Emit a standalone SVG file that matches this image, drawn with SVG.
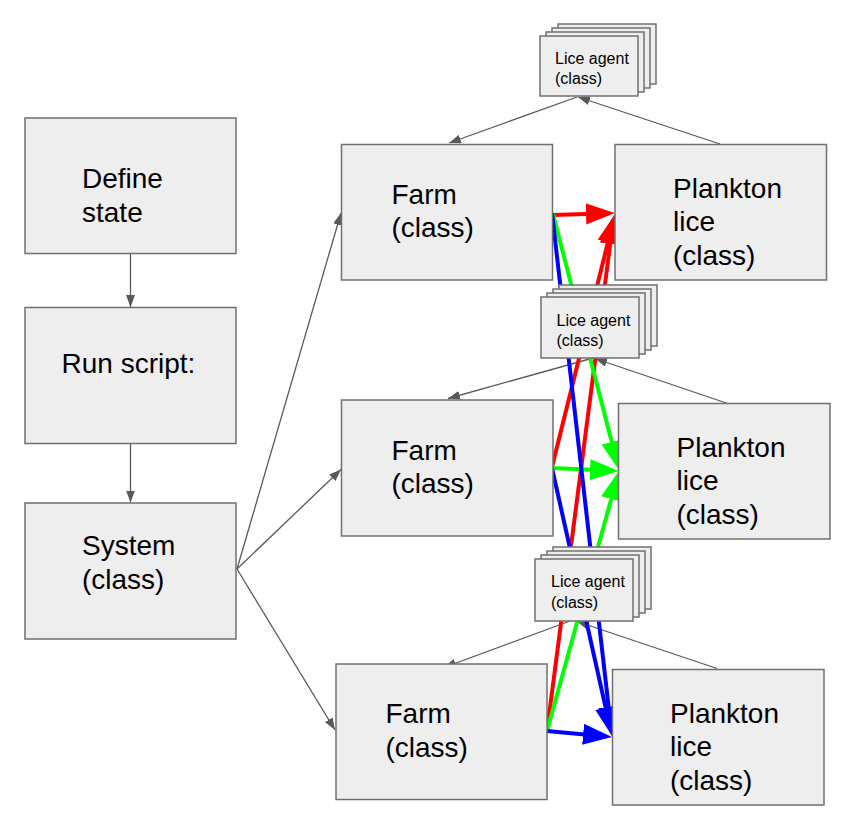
<svg xmlns="http://www.w3.org/2000/svg" width="859" height="820" viewBox="0 0 859 820">
<defs>
<style>
.box{fill:#eeeeee;stroke:#707070;stroke-width:1.5}
.big{font-family:"Liberation Sans",Arial,sans-serif;font-size:28px;fill:#000}
.small{font-family:"Liberation Sans",Arial,sans-serif;font-size:16px;fill:#000}
.gray{stroke:#595959;stroke-width:1.3;fill:none;marker-end:url(#ag)}
.r{stroke:#ff0000;stroke-width:4;fill:none;marker-end:url(#ar)}
.g{stroke:#00ff00;stroke-width:4;fill:none;marker-end:url(#agr)}
.b{stroke:#0000ff;stroke-width:4;fill:none;marker-end:url(#ab)}
</style>
<marker id="ag" markerUnits="userSpaceOnUse" markerWidth="13" markerHeight="10" refX="12" refY="4.5" orient="auto"><path d="M0,0 L12,4.5 L0,9 z" fill="#595959"/></marker>
<marker id="ar" markerUnits="userSpaceOnUse" markerWidth="30" markerHeight="22" refX="23" refY="10.5" orient="auto"><path d="M0,0 L29,10.5 L0,21 z" fill="#ff0000"/></marker>
<marker id="agr" markerUnits="userSpaceOnUse" markerWidth="30" markerHeight="22" refX="23" refY="10.5" orient="auto"><path d="M0,0 L29,10.5 L0,21 z" fill="#00ff00"/></marker>
<marker id="ab" markerUnits="userSpaceOnUse" markerWidth="30" markerHeight="22" refX="23" refY="10.5" orient="auto"><path d="M0,0 L29,10.5 L0,21 z" fill="#0000ff"/></marker>
</defs>
<rect width="859" height="820" fill="#ffffff"/>

<g id="connectors">
<line class="gray" x1="130.5" y1="253.5" x2="130.5" y2="307"/>
<line class="gray" x1="130.5" y1="443.5" x2="130.5" y2="502.5"/>
<line class="gray" x1="237" y1="569" x2="341" y2="213"/>
<line class="gray" x1="237" y1="569" x2="341" y2="469.5"/>
<line class="gray" x1="237" y1="569" x2="335" y2="730"/>
<line class="gray" x1="577" y1="97" x2="449" y2="143"/>
<line class="gray" x1="720" y1="144" x2="578" y2="97"/>
<line class="gray" x1="593" y1="358" x2="448" y2="398.5"/>
<line class="gray" x1="735" y1="406" x2="595" y2="358.5"/>
<line class="gray" x1="570" y1="621" x2="444" y2="667.5"/>
<line class="gray" x1="717" y1="668.5" x2="577" y2="621.5"/>
<line class="r" x1="553" y1="215" x2="609" y2="213.2"/>
<line class="r" x1="552" y1="467" x2="613.55" y2="219.8"/>
<line class="r" x1="547" y1="731" x2="613.2" y2="221"/>
<line class="g" x1="553" y1="214" x2="617.5" y2="464.2"/>
<line class="g" x1="552" y1="468" x2="613" y2="470.7"/>
<line class="g" x1="547" y1="731" x2="617.4" y2="476.8"/>
<line class="b" x1="552" y1="213" x2="611.3" y2="730"/>
<line class="b" x1="552" y1="468" x2="610.7" y2="730.1"/>
<line class="b" x1="547" y1="731" x2="606" y2="736.4"/>
</g>

<g id="define-state">
<rect class="box" x="25" y="118" width="211" height="135.5"/>
<text class="big" x="82" y="188">Define</text>
<text class="big" x="82" y="222">state</text>
</g>
<g id="run-script">
<rect class="box" x="25" y="307.5" width="211" height="136"/>
<text class="big" x="61.5" y="372.5">Run script:</text>
</g>
<g id="system">
<rect class="box" x="25" y="503" width="211" height="136"/>
<text class="big" x="82" y="555">System</text>
<text class="big" x="82" y="589">(class)</text>
</g>

<g id="farm1">
<rect class="box" x="341.5" y="144.5" width="211" height="135.5"/>
<text class="big" x="391.5" y="204">Farm</text>
<text class="big" x="391.5" y="237">(class)</text>
</g>
<g id="plankton1">
<rect class="box" x="615" y="144.5" width="211.5" height="135.5"/>
<text class="big" x="673" y="198">Plankton</text>
<text class="big" x="673" y="231">lice</text>
<text class="big" x="673" y="264.5">(class)</text>
</g>
<g id="farm2">
<rect class="box" x="341.5" y="400" width="211.5" height="136"/>
<text class="big" x="391.5" y="460">Farm</text>
<text class="big" x="391.5" y="493">(class)</text>
</g>
<g id="plankton2">
<rect class="box" x="618.5" y="403.5" width="211.5" height="135.5"/>
<text class="big" x="676.5" y="457">Plankton</text>
<text class="big" x="676.5" y="490">lice</text>
<text class="big" x="676.5" y="523.5">(class)</text>
</g>
<g id="farm3">
<rect class="box" x="336" y="664" width="211" height="135.5"/>
<text class="big" x="385.5" y="723">Farm</text>
<text class="big" x="385.5" y="756.5">(class)</text>
</g>
<g id="plankton3">
<rect class="box" x="612.5" y="669.5" width="211.5" height="135.5"/>
<text class="big" x="670" y="723">Plankton</text>
<text class="big" x="670" y="756">lice</text>
<text class="big" x="670" y="790">(class)</text>
</g>

<g id="lice-agent1">
<rect class="box" x="558" y="24" width="98" height="60"/>
<rect class="box" x="552" y="28" width="98" height="60"/>
<rect class="box" x="546" y="32" width="98" height="60"/>
<rect class="box" x="540" y="36" width="98" height="60"/>
<text class="small" x="555" y="64">Lice agent</text>
<text class="small" x="555" y="83.5">(class)</text>
</g>
<g id="lice-agent2">
<rect class="box" x="559" y="285" width="98" height="61"/>
<rect class="box" x="553" y="289" width="98" height="61"/>
<rect class="box" x="547" y="293" width="98" height="61"/>
<rect class="box" x="541" y="297" width="98" height="61"/>
<text class="small" x="556.5" y="325.5">Lice agent</text>
<text class="small" x="556.5" y="345.5">(class)</text>
</g>
<g id="lice-agent3">
<rect class="box" x="553" y="547" width="98" height="62"/>
<rect class="box" x="547" y="551" width="98" height="62"/>
<rect class="box" x="541" y="555" width="98" height="62"/>
<rect class="box" x="535" y="559" width="98" height="62"/>
<text class="small" x="551" y="587">Lice agent</text>
<text class="small" x="551" y="608">(class)</text>
</g>
</svg>
